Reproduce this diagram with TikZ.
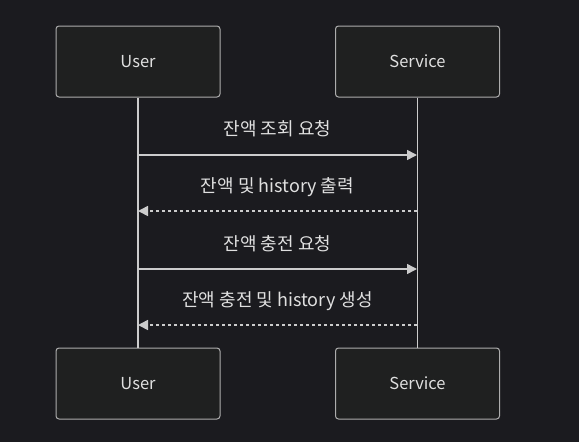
\documentclass[tikz,border=0pt]{standalone}
\usepackage{fontspec}
\setmainfont{Noto Sans CJK KR}
\usepackage{tikz}
\usetikzlibrary{arrows.meta,positioning}
\definecolor{bgdark}{HTML}{1B1B1F}
\definecolor{boxfill}{HTML}{1F2020}
\definecolor{boxline}{HTML}{ADADAD}
\definecolor{msgline}{HTML}{CCCCCC}
\definecolor{msgtext}{HTML}{E0E0E0}
\newcommand{\actfont}{\fontsize{16.5}{19}\selectfont}
\newcommand{\msgfont}{\fontsize{18}{21}\selectfont}
\tikzset{
  >={Triangle[length=10pt,width=10pt]},
  actor/.style ={rectangle, rounded corners=3pt, draw=boxline, fill=boxfill,
                 line width=1pt, minimum width=164pt, minimum height=71pt,
                 inner sep=0pt, font=\actfont, text=msgtext},
  life/.style  ={draw=msgline, line width=1.6pt},
  req/.style   ={->, draw=msgline, line width=1.6pt},
  resp/.style  ={->, draw=msgline, line width=1.6pt,
                 dash pattern=on 3pt off 3pt},
  lbl/.style   ={font=\msgfont, text=msgtext, inner sep=0pt},
}
\begin{document}
\begin{tikzpicture}[x=1pt,y=-1pt]
\fill[bgdark] (0,0) rectangle (579,442);
\useasboundingbox (0,0) rectangle (579,442);
\node[actor] (usrtop) at (138,61.5)  {\raisebox{-2pt}{User}};
\node[actor] (svctop) at (417.5,61.5) {\raisebox{-2pt}{Service}};
\node[actor] (usrbot) at (138,383.5) {\raisebox{-2pt}{User}};
\node[actor] (svcbot) at (417.5,383.5) {\raisebox{-2pt}{Service}};
\draw[life] (usrtop) -- (usrbot);
\draw[life] (svctop) -- (svcbot);
% messages
\coordinate (u1) at (138,155); \coordinate (s1) at (417,155);
\coordinate (u2) at (138,211); \coordinate (s2) at (417,211);
\coordinate (u3) at (138,269); \coordinate (s3) at (417,269);
\coordinate (u4) at (138,325); \coordinate (s4) at (417,325);
\draw[req]  (u1) -- (s1);
\draw[resp] (s2) -- (u2);
\draw[req]  (u3) -- (s3);
\draw[resp] (s4) -- (u4);
\node[lbl] (m1) at (277.5,129) {잔액 조회 요청};
\node[lbl] (m2) at (277.5,187) {잔액 및 history 출력};
\node[lbl] (m3) at (277.5,244) {잔액 충전 요청};
\node[lbl] (m4) at (277.5,301) {잔액 충전 및 history 생성};
\end{tikzpicture}
\end{document}
